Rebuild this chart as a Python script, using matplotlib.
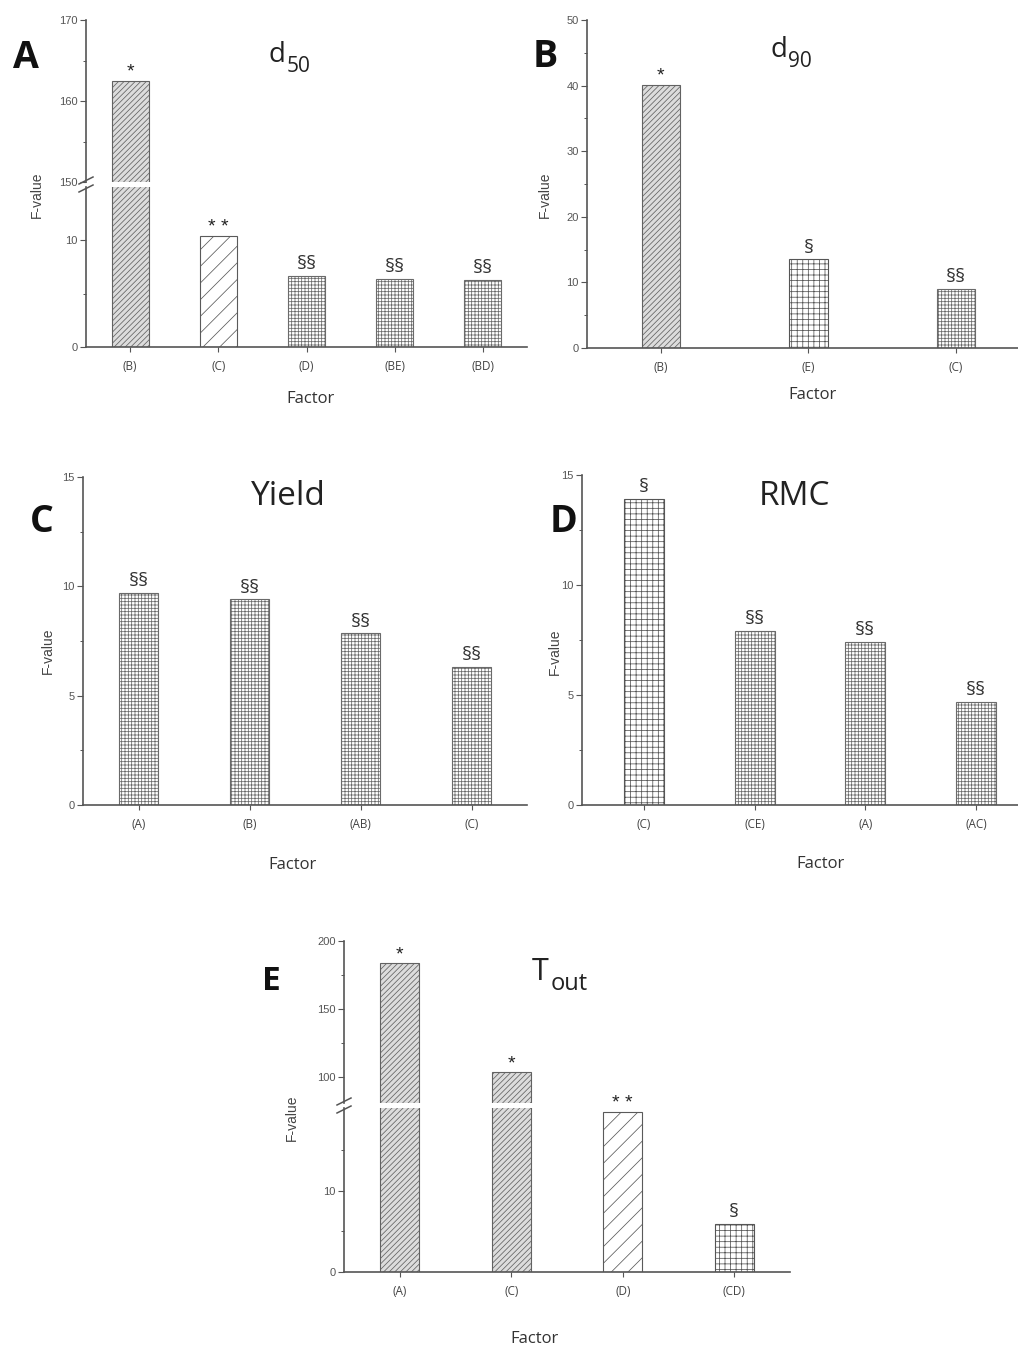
import matplotlib
matplotlib.use("Agg")
import matplotlib.pyplot as plt
from matplotlib.ticker import MultipleLocator, FixedLocator
from matplotlib.lines import Line2D

# ---------------- data ----------------
a_factors = ["(B)", "(C)", "(D)", "(BE)", "(BD)"]
a_values = [162.5, 10.4, 6.7, 6.4, 6.3]
a_marks = ["*", "**", "§§", "§§", "§§"]

b_factors = ["(B)", "(E)", "(C)"]
b_values = [40.1, 13.5, 9.0]
b_marks = ["*", "§", "§§"]

c_factors = ["(A)", "(B)", "(AB)", "(C)"]
c_values = [9.7, 9.4, 7.85, 6.3]
c_marks = ["§§", "§§", "§§", "§§"]

d_factors = ["(C)", "(CE)", "(A)", "(AC)"]
d_values = [13.9, 7.9, 7.4, 4.7]
d_marks = ["§", "§§", "§§", "§§"]

e_factors = ["(A)", "(C)", "(D)", "(CD)"]
e_values = [183.8, 103.7, 19.7, 5.9]
e_marks = ["*", "*", "**", "§"]

# ---------------- style ----------------
W, H = 1018, 1349
plt.rcParams["hatch.linewidth"] = 0.55
plt.rcParams["mathtext.fontset"] = "custom"
plt.rcParams["mathtext.rm"] = "Open Sans"
AXC = "#555555"
TFONT = "Liberation Sans"
LFONT = "Open Sans"

STYLE = {
    "*": dict(facecolor="#dcdcdc", hatch="//////", edgecolor="#626262"),
    "**": dict(facecolor="white", hatch="//", edgecolor="#5a5a5a"),
    "§§": dict(facecolor="white", hatch="+++++", edgecolor="#6a6a6a"),
    "§": dict(facecolor="white", hatch="+++", edgecolor="#555555"),
}

fig = plt.figure(figsize=(W / 100, H / 100), dpi=100)
fig.patch.set_facecolor("white")


def rect(left, right, top, bottom):
    return [left / W, 1 - bottom / H, (right - left) / W, (bottom - top) / H]


def style_axis(ax, bottom=True):
    ax.set_facecolor("none")
    for s in ("top", "right"):
        ax.spines[s].set_visible(False)
    ax.spines["left"].set_color(AXC)
    ax.spines["left"].set_linewidth(1.2)
    if bottom:
        ax.spines["bottom"].set_color(AXC)
        ax.spines["bottom"].set_linewidth(1.2)
    else:
        ax.spines["bottom"].set_visible(False)
    ax.tick_params(axis="y", which="major", direction="out", length=4, width=0.8,
                   color=AXC, labelsize=8, labelcolor="#555555", pad=2)
    ax.tick_params(axis="y", which="minor", direction="out", length=2.5, width=0.7, color=AXC)
    for t in ax.get_yticklabels():
        t.set_fontfamily(TFONT)
    if bottom:
        ax.tick_params(axis="x", direction="out", length=3.5, width=0.8, color=AXC,
                       labelsize=8.5, labelcolor="#444444", pad=6)
    else:
        ax.tick_params(axis="x", bottom=False, labelbottom=False)


def draw_bars(ax, values, marks, width):
    for xi, (v, m) in enumerate(zip(values, marks)):
        ax.bar(xi, v, width=width, linewidth=0.8, zorder=2, **STYLE[m])


def annotate(ax, values, marks, idx=None, fs_star=14, fs_sec=14):
    for i, (v, m) in enumerate(zip(values, marks)):
        if idx is not None and i not in idx:
            continue
        if "*" in m:
            ax.annotate(" ".join(m), (i, v), xytext=(0, 0), textcoords="offset points",
                        ha="center", va="bottom", fontsize=fs_star, color="#222222",
                        fontfamily=TFONT, annotation_clip=False, zorder=5)
        else:
            ax.annotate(m, (i, v), xytext=(0, 2), textcoords="offset points",
                        ha="center", va="bottom", fontsize=fs_sec, color="#333333",
                        fontfamily=LFONT, annotation_clip=False, zorder=5)


def set_xcats(ax, cats, lo, hi):
    ax.set_xlim(lo, hi)
    ax.set_xticks(range(len(cats)))
    ax.set_xticklabels(cats, fontfamily=LFONT)


def ftext(x, y, s, **kw):
    return fig.text(x / W, 1 - y / H, s, **kw)


def title_sub(xd, yb, main, sub, size=20, subsize=15):
    t = ftext(xd, yb, main, fontsize=size, fontfamily=LFONT, color="#222222",
              ha="left", va="baseline")
    plt.annotate(sub, xy=(1.0, 0.0), xycoords=t, xytext=(1, -2),
                 textcoords="offset points", fontsize=subsize,
                 fontfamily=LFONT, color="#222222", ha="left", va="baseline")


def break_marks(xs, y_top, y_bot):
    # two short parallel slashes across the y spine, in pixel space
    for yc in (y_top - 1.5, y_bot + 1.5):
        fig.add_artist(Line2D([(xs - 7) / W, (xs + 7) / W],
                              [1 - (yc + 3.5) / H, 1 - (yc - 3.5) / H],
                              color=AXC, lw=1.1, transform=fig.transFigure))


def label_axes(yl_x, yl_y, fx, fy):
    ftext(yl_x, yl_y, "F-value", rotation=90, ha="center", va="center",
          fontsize=10, fontfamily=TFONT, color="#444444")
    ftext(fx, fy, "Factor", ha="center", va="center", fontsize=12,
          fontfamily=LFONT, color="#333333")


# ---------------- Panel A (broken axis) ----------------
aL = fig.add_axes(rect(86, 527, 187, 347))
aU = fig.add_axes(rect(86, 527, 20, 182))
for ax in (aL, aU):
    draw_bars(ax, a_values, a_marks, 0.42)
aL.set_ylim(0, 15)
aU.set_ylim(150, 170)
aL.yaxis.set_major_locator(FixedLocator([0, 10]))
aL.yaxis.set_minor_locator(FixedLocator([5]))
aU.yaxis.set_major_locator(FixedLocator([150, 160, 170]))
aU.yaxis.set_minor_locator(FixedLocator([155, 165]))
set_xcats(aL, a_factors, -0.5, 4.5)
aU.set_xlim(-0.5, 4.5)
style_axis(aL)
style_axis(aU, bottom=False)
annotate(aU, a_values, a_marks, idx=[0])
annotate(aL, a_values, a_marks, idx=[1, 2, 3, 4])
break_marks(86, 182, 187)
ftext(13, 68, "A", fontsize=27, fontweight="bold", fontfamily=LFONT, color="#111111", va="baseline")
title_sub(268, 62, "d", "50", size=20, subsize=15)
label_axes(37, 195, 310, 399)

# ---------------- Panel B ----------------
bA = fig.add_axes(rect(587, 1018, 20, 348))
draw_bars(bA, b_values, b_marks, 0.26)
bA.set_ylim(0, 50)
bA.yaxis.set_major_locator(MultipleLocator(10))
bA.yaxis.set_minor_locator(MultipleLocator(5))
set_xcats(bA, b_factors, -0.5, 2.42)
style_axis(bA)
annotate(bA, b_values, b_marks)
ftext(533, 67, "B", fontsize=27, fontweight="bold", fontfamily=LFONT, color="#111111", va="baseline")
title_sub(770, 57, "d", "90", size=20, subsize=15)
label_axes(545, 195, 812, 395)

# ---------------- Panel C ----------------
cA = fig.add_axes(rect(83, 527, 477, 805))
draw_bars(cA, c_values, c_marks, 0.35)
cA.set_ylim(0, 15)
cA.yaxis.set_major_locator(MultipleLocator(5))
cA.yaxis.set_minor_locator(MultipleLocator(2.5))
set_xcats(cA, c_factors, -0.5, 3.5)
style_axis(cA)
annotate(cA, c_values, c_marks)
ftext(30, 532, "C", fontsize=27, fontweight="bold", fontfamily=LFONT, color="#111111", va="baseline")
ftext(288, 505, "Yield", fontsize=24, fontfamily=LFONT, color="#222222", ha="center", va="baseline")
label_axes(48, 651, 292, 865)

# ---------------- Panel D ----------------
dA = fig.add_axes(rect(582, 1018, 475, 805))
draw_bars(dA, d_values, d_marks, 0.36)
dA.set_ylim(0, 15)
dA.yaxis.set_major_locator(MultipleLocator(5))
dA.yaxis.set_minor_locator(MultipleLocator(2.5))
set_xcats(dA, d_factors, -0.56, 3.38)
style_axis(dA)
annotate(dA, d_values, d_marks)
ftext(550, 532, "D", fontsize=27, fontweight="bold", fontfamily=LFONT, color="#111111", va="baseline")
ftext(795, 505, "RMC", fontsize=24, fontfamily=LFONT, color="#222222", ha="center", va="baseline")
label_axes(555, 652, 821, 864)

# ---------------- Panel E (broken axis) ----------------
eL = fig.add_axes(rect(344, 790, 1108, 1272))
eU = fig.add_axes(rect(344, 790, 941, 1103))
for ax in (eL, eU):
    draw_bars(ax, e_values, e_marks, 0.35)
eL.set_ylim(0, 20.2)
eU.set_ylim(81, 200)
eL.yaxis.set_major_locator(FixedLocator([0, 10]))
eL.yaxis.set_minor_locator(FixedLocator([5, 15]))
eU.yaxis.set_major_locator(FixedLocator([100, 150, 200]))
eU.yaxis.set_minor_locator(FixedLocator([125, 175]))
set_xcats(eL, e_factors, -0.5, 3.5)
eU.set_xlim(-0.5, 3.5)
style_axis(eL)
style_axis(eU, bottom=False)
annotate(eU, e_values, e_marks, idx=[0, 1])
annotate(eL, e_values, e_marks, idx=[2, 3])
break_marks(344, 1103, 1108)
ftext(262, 990, "E", fontsize=24, fontweight="bold", fontfamily=LFONT, color="#111111", va="baseline")
title_sub(532, 980, "T", "out", size=22, subsize=17)
label_axes(292, 1118, 535, 1339)

fig.savefig("out.png", dpi=100, facecolor="white")
